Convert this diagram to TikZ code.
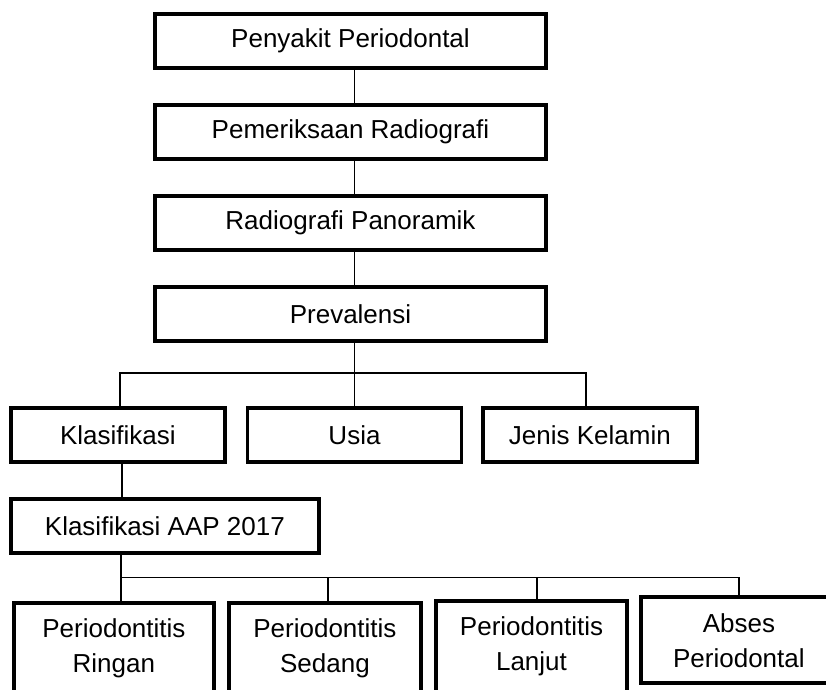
\documentclass[tikz,border=0pt]{standalone}
\usepackage{fontspec}
\setmainfont{Liberation Sans}
\usepackage{tikz}
\tikzstyle{link} = [line width=0.9pt,color=black]
\tikzstyle{mainbox} = [rectangle, minimum width=9.775cm, minimum height=1.35cm, inner sep=0pt, text centered, draw=black, line width=2.8pt, fill=white, font=\fontsize{18.5}{25}\selectfont]
\tikzstyle{sidebox} = [mainbox, minimum width=5.35cm]
\tikzstyle{aapbox} = [mainbox, minimum width=7.7cm]
\tikzstyle{leafbox} = [mainbox, minimum width=5cm, minimum height=2.275cm, align=center]

\begin{document}
\begin{tikzpicture}[node distance=2.275cm]
    \useasboundingbox (0,0) rectangle (20.65,-17.225);
    \clip (0,0) rectangle (20.65,-17.225);

    % nodes
    \node (penyakit) [mainbox] at (8.7625,-1.025) {Penyakit Periodontal};
    \node (pemeriksaan) [mainbox, below of=penyakit] {Pemeriksaan Radiografi};
    \node (panoramik) [mainbox, below of=pemeriksaan] {Radiografi Panoramik};
    \node (prevalensi) [mainbox, below of=panoramik] {Prevalensi};

    % middle row
    \node (usia) [sidebox, below of=prevalensi, xshift=0.1cm, yshift=-0.76cm] {Usia};
    \node (klasifikasi) [sidebox, left of=usia, xshift=-3.64cm] {Klasifikasi};
    \node (jenis) [sidebox, right of=usia, xshift=3.61cm] {Jenis Kelamin};
    \node (aap) [aapbox, below of=klasifikasi, xshift=1.175cm] {Klasifikasi AAP 2017};

    % bottom
    \node (ringan) [leafbox, below of=aap, xshift=-1.275cm, yshift=-0.775cm] {Periodontitis\\Ringan};
    \node (sedang) [leafbox, minimum width=4.8cm, right of=ringan, xshift=3cm] {Periodontitis\\Sedang};
    \node (lanjut) [leafbox, minimum width=4.775cm, right of=sedang, xshift=2.89cm, yshift=0.05cm] {Periodontitis\\Lanjut};
    \node (abses) [leafbox, minimum width=4.9cm, minimum height=2.15cm, right of=lanjut, xshift=2.91cm, yshift=0.15cm] {Abses\\Periodontal};

    % lines

    % column
    \draw [link] ([xshift=0.1cm]penyakit.south) -- ([xshift=0.1cm]pemeriksaan.north);
    \draw [link] ([xshift=0.1cm]pemeriksaan.south) -- ([xshift=0.1cm]panoramik.north);
    \draw [link] ([xshift=0.1cm]panoramik.south) -- ([xshift=0.1cm]prevalensi.north);

    % branch prevalensi
    \draw [link] ([xshift=0.1cm]prevalensi.south) -- ([xshift=0.1cm,yshift=-0.75cm]prevalensi.south) -| ([xshift=0.05cm]klasifikasi.north);
    \draw [link] ([xshift=0.1cm,yshift=-0.75cm]prevalensi.south) -| (usia.north);
    \draw [link] ([xshift=0.1cm,yshift=-0.75cm]prevalensi.south) -| ([xshift=-0.1cm]jenis.north);
    \draw [link] ([xshift=0.1cm]klasifikasi.south) |- (aap.north);

    % branch aap
    \draw [link] ([xshift=-1.1cm]aap.south) -- ([xshift=-1.1cm,yshift=-0.55cm]aap.south) -| ([xshift=0.175cm]ringan.north);
    \draw [link] ([xshift=-1.1cm,yshift=-0.55cm]aap.south) -| ([xshift=0.075cm]sedang.north);
    \draw [link] ([xshift=-1.1cm,yshift=-0.55cm]aap.south) -| ([xshift=0.14cm]lanjut.north);
    \draw [link] ([xshift=-1.1cm,yshift=-0.55cm]aap.south) -| (abses.north);
\end{tikzpicture}
\end{document}
